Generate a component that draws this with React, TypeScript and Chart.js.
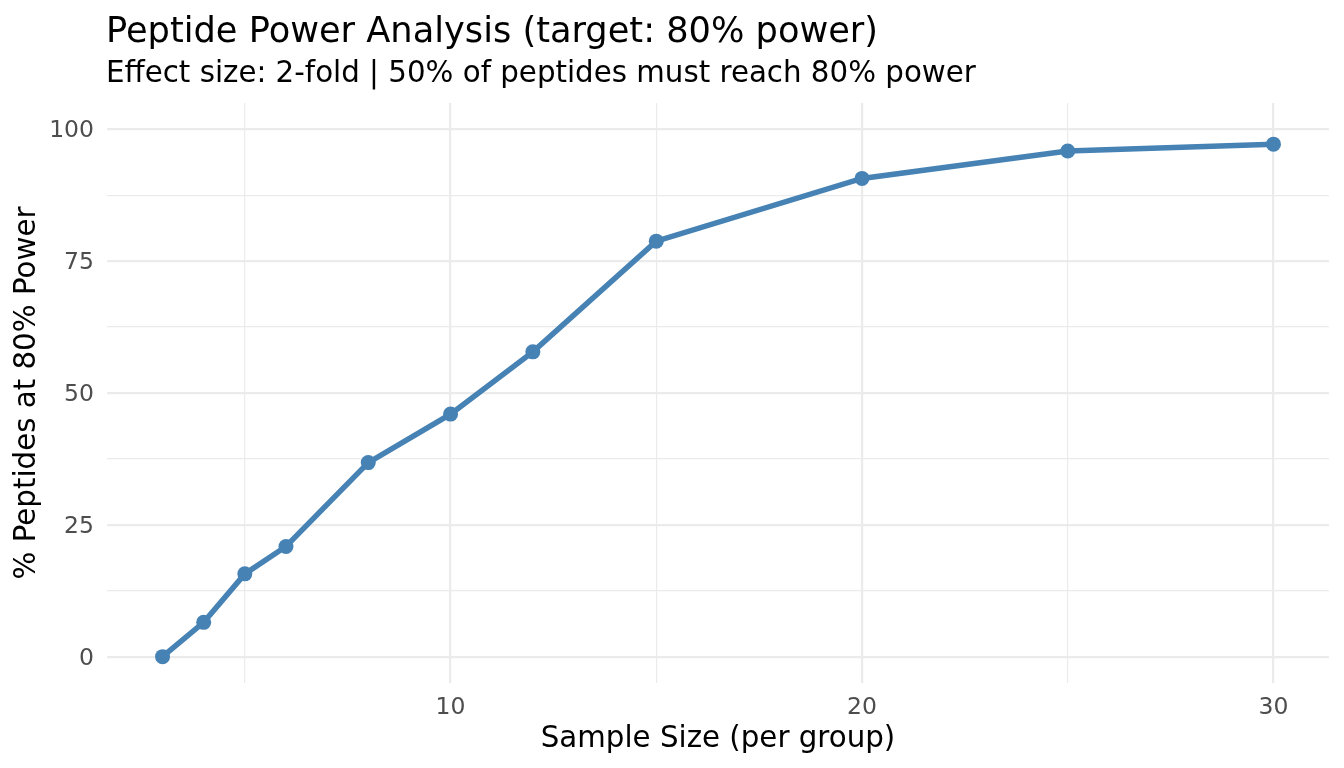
import React, { useEffect, useRef } from "react";
import { Chart, registerables } from "chart.js";

Chart.register(...registerables);

const sampleSizes = [3, 4, 5, 6, 8, 10, 12, 15, 20, 25, 30];
const pctPeptides = [0, 6.5, 15.7, 20.9, 36.8, 46.0, 57.8, 78.8, 90.7, 95.9, 97.2];
const xGridValues = [5, 10, 15, 20, 25, 30];
const xLabelValues = [10, 20, 30];
const yGridValues = [0, 12.5, 25, 37.5, 50, 62.5, 75, 87.5, 100];
const yLabelValues = [0, 25, 50, 75, 100];

const titleText = "Peptide Power Analysis (target: 80% power)";
const subtitleText = "Effect size: 2-fold | 50% of peptides must reach 80% power";
const xTitle = "Sample Size (per group)";
const yTitle = "% Peptides at 80% Power";

const FONT = "'DejaVu Sans', sans-serif";
const LINE_COLOR = "#4682B4";
const GRID_COLOR = "#EBEBEB";

const titlePlugin = {
  id: "ggTitles",
  afterDraw(chart: any) {
    const ctx = chart.ctx;
    const left = chart.chartArea.left - 1;
    ctx.save();
    ctx.fillStyle = "#000000";
    ctx.textAlign = "left";
    ctx.textBaseline = "alphabetic";
    ctx.font = `35.2px ${FONT}`;
    ctx.fillText(titleText, left, 42);
    ctx.font = `29.3px ${FONT}`;
    ctx.fillText(subtitleText, left, 82);
    ctx.restore();
  },
};

export default function App() {
  const canvasRef = useRef<HTMLCanvasElement | null>(null);

  useEffect(() => {
    const canvas = canvasRef.current;
    if (!canvas) return;
    const chart = new Chart(canvas, {
      type: "line",
      data: {
        datasets: [
          {
            data: sampleSizes.map((x, i) => ({ x, y: pctPeptides[i] })),
            borderColor: LINE_COLOR,
            backgroundColor: LINE_COLOR,
            borderWidth: 5.5,
            pointRadius: 7.5,
            pointHoverRadius: 7.5,
            pointBorderWidth: 0,
            pointBackgroundColor: LINE_COLOR,
            tension: 0,
            fill: false,
            clip: false,
          },
        ],
      },
      options: {
        animation: false,
        responsive: false,
        devicePixelRatio: 1,
        layout: { padding: { top: 103, right: 15, left: 0, bottom: 0 } },
        plugins: {
          legend: { display: false },
          tooltip: { enabled: false },
          title: { display: false },
        },
        scales: {
          x: {
            type: "linear",
            min: 1.65,
            max: 31.35,
            afterBuildTicks: (scale: any) => {
              scale.ticks = xGridValues.map((v) => ({ value: v }));
            },
            afterFit: (scale: any) => {
              scale.height = 85;
            },
            border: { display: false },
            grid: {
              drawTicks: false,
              color: GRID_COLOR,
              lineWidth: (ctx: any) =>
                xLabelValues.includes(ctx.tick?.value) ? 2.2 : 1.2,
            },
            ticks: {
              autoSkip: false,
              maxRotation: 0,
              padding: 11,
              color: "#4D4D4D",
              font: { family: FONT, size: 23.5 },
              callback: (v: any) => (xLabelValues.includes(Number(v)) ? String(v) : ""),
            },
            title: {
              display: true,
              text: xTitle,
              color: "#000000",
              font: { family: FONT, size: 29.3 },
              padding: { top: 0, bottom: 11 },
            },
          },
          y: {
            type: "linear",
            min: -5,
            max: 105,
            afterBuildTicks: (scale: any) => {
              scale.ticks = yGridValues.map((v) => ({ value: v }));
            },
            afterFit: (scale: any) => {
              scale.width = 107;
            },
            border: { display: false },
            grid: {
              drawTicks: false,
              color: GRID_COLOR,
              lineWidth: (ctx: any) =>
                yLabelValues.includes(ctx.tick?.value) ? 2.2 : 1.2,
            },
            ticks: {
              autoSkip: false,
              padding: 13,
              labelOffset: 2,
              color: "#4D4D4D",
              font: { family: FONT, size: 23.5 },
              callback: (v: any) => (yLabelValues.includes(Number(v)) ? String(v) : ""),
            },
            title: {
              display: true,
              text: yTitle,
              color: "#000000",
              font: { family: FONT, size: 29.3 },
              padding: { top: 10, bottom: 0 },
            },
          },
        },
      },
      plugins: [titlePlugin],
    } as any);
    return () => chart.destroy();
  }, []);

  return (
    <div style={{ position: "absolute", left: 0, top: 0, width: 1344, height: 768, background: "#ffffff" }}>
      <canvas ref={canvasRef} width={1344} height={768} style={{ display: "block", width: 1344, height: 768 }} />
    </div>
  );
}
